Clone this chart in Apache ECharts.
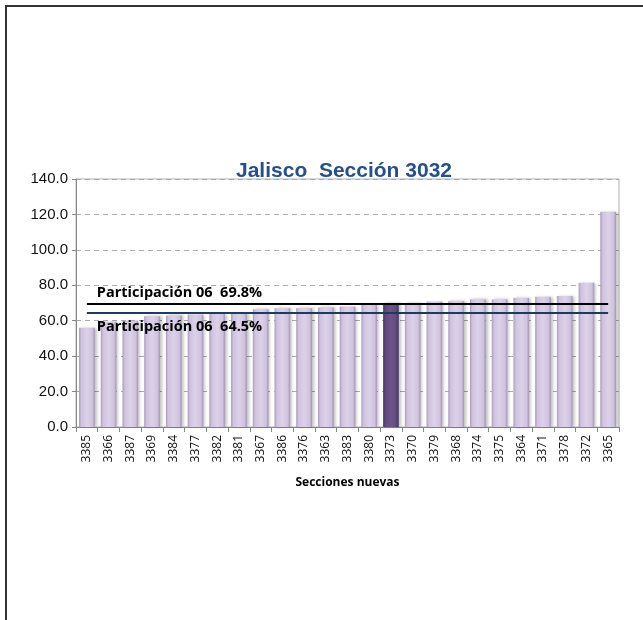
<!DOCTYPE html>
<html>
<head>
<meta charset="utf-8">
<script src="https://cdn.jsdelivr.net/npm/echarts@6/dist/echarts.min.js"></script>
<style>html,body{margin:0;padding:0;background:#fff;}#c{width:643px;height:620px;}</style>
</head>
<body>
<div id="c"></div>
<script>
const categories = ['3385','3366','3387','3369','3384','3377','3382','3381','3367','3386','3376','3363','3383','3380','3373','3370','3379','3368','3374','3375','3364','3371','3378','3372','3365'];
const values = [56.0,59.5,60.0,62.5,63.0,63.5,64.0,64.5,66.5,67.0,67.0,67.5,68.0,69.0,69.8,70.0,70.8,71.0,72.0,72.0,72.8,73.5,74.0,81.5,121.5];
const highlightCategory = '3373';
const refLines = [
  {name: 'Participación 06  69.8%', value: 69.8},
  {name: 'Participación 06  64.5%', value: 64.5}
];
const yTicks = {min: 0, max: 140, interval: 20};

const chart = echarts.init(document.getElementById('c'));
const lightFill = new echarts.graphic.LinearGradient(0,0,1,0,[
  {offset:0,color:'#a99bbd'},{offset:0.15,color:'#cfc3df'},{offset:0.5,color:'#dcd2e8'},{offset:0.85,color:'#cfc3df'},{offset:1,color:'#a195b3'}]);
const darkFill = new echarts.graphic.LinearGradient(0,0,1,0,[
  {offset:0,color:'#4a3763'},{offset:0.2,color:'#634c80'},{offset:0.5,color:'#6c5489'},{offset:0.8,color:'#634c80'},{offset:1,color:'#45335c'}]);

const n = categories.length;
chart.setOption({
  animation: false,
  title: {
    text: 'Jalisco  Sección 3032', left: 339, top: 156, textAlign: 'center',
    textStyle: {fontFamily: 'Liberation Sans, Arial', fontSize: 21, fontWeight: 'bold', color: '#24508c'}
  },
  grid: {left: 76, right: 24, top: 179, bottom: 193, containLabel: false,
         show: true, borderColor: '#b0b0b0', borderWidth: 1, backgroundColor: 'transparent'},
  graphic: [
    {type: 'line', shape: {x1: 6, y1: 5, x2: 6, y2: 620}, style: {stroke: '#333', lineWidth: 2}},
    {type: 'line', shape: {x1: 5, y1: 6, x2: 643, y2: 6}, style: {stroke: '#333', lineWidth: 2}}
  ],
  xAxis: {
    type: 'category', data: categories,
    name: 'Secciones nuevas', nameLocation: 'middle', nameGap: 50,
    nameTextStyle: {fontFamily: 'Open Sans, DejaVu Sans', fontSize: 12, fontWeight: 'bold', color: '#000'},
    axisLine: {lineStyle: {color: '#888'}},
    axisTick: {show: true, alignWithLabel: false, length: 5, lineStyle: {color: '#888'}},
    axisLabel: {rotate: 90, interval: 0, fontFamily: 'Open Sans, DejaVu Sans', fontSize: 12, color: '#111', margin: 8}
  },
  yAxis: {
    type: 'value', min: yTicks.min, max: yTicks.max, interval: yTicks.interval,
    axisLine: {show: true, lineStyle: {color: '#888'}},
    axisTick: {show: true, length: 4, lineStyle: {color: '#888'}},
    axisLabel: {formatter: v => v.toFixed(1), fontFamily: 'Liberation Sans, Arial', fontSize: 15, color: '#111', margin: 8},
    splitLine: {lineStyle: {color: '#aaa', type: [5, 4]}}
  },
  series: [{
    type: 'bar', barWidth: '72%',
    data: values.map((v, i) => ({value: v, itemStyle: {color: categories[i] === highlightCategory ? darkFill : lightFill}})),
    itemStyle: {shadowColor: 'rgba(0,0,0,0.25)', shadowBlur: 3, shadowOffsetX: 2},
    markLine: {
      silent: true, symbol: 'none', animation: false,
      data: [
        [{coord: [0, refLines[0].value], lineStyle: {color: '#000', width: 2, type: 'solid'},
          label: {show: true, position: 'insideStartTop', formatter: refLines[0].name, distance: [10, 3]}},
         {coord: [n - 1, refLines[0].value]}],
        [{coord: [0, refLines[1].value], lineStyle: {color: '#1f3a60', width: 2, type: 'solid'},
          label: {show: true, position: 'insideStartBottom', formatter: refLines[1].name, distance: [10, 7]}},
         {coord: [n - 1, refLines[1].value]}]
      ],
      label: {fontFamily: 'Open Sans, DejaVu Sans', fontSize: 14.5, fontWeight: 'bold', color: '#000'}
    }
  }]
});
</script>
</body>
</html>
